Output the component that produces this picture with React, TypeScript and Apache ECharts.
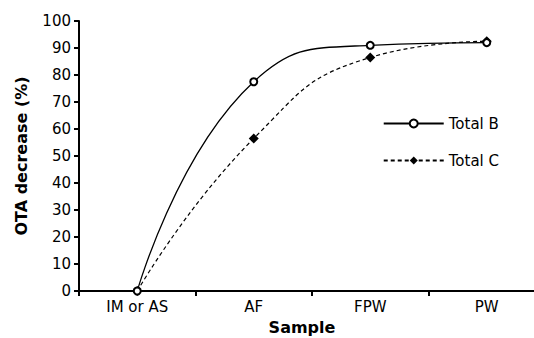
import React, { useEffect, useRef } from "react";
import * as echarts from "echarts";

const categories = ["IM or AS", "AF", "FPW", "PW"];
const totalB = [0, 77.5, 91, 92];
const totalC = [0, 56.5, 86.5, 92.5];
const yTicks = { min: 0, max: 100, interval: 10 };

export default function App() {
  const ref = useRef<HTMLDivElement>(null);
  useEffect(() => {
    const chart = echarts.init(ref.current!, null, { renderer: "svg" });
    const font = "DejaVu Sans";
    chart.setOption({
      animation: false,
      textStyle: { fontFamily: font },
      grid: { left: 79, top: 21, bottom: 47, right: -11, containLabel: false, outerBoundsMode: "none" },
      legend: {
        right: 30,
        top: 111,
        orient: "vertical",
        itemWidth: 60,
        itemHeight: 10,
        itemGap: 22,
        textStyle: { fontFamily: font, fontSize: 15, color: "#000" },
        data: ["Total B", "Total C"],
      },
      xAxis: {
        type: "category",
        data: categories,
        boundaryGap: true,
        name: "Sample",
        nameLocation: "middle",
        nameGap: 28,
        nameTextStyle: { fontFamily: font, fontSize: 16, fontWeight: "bold", color: "#000", padding: [0, 0, 0, -20] },
        axisLine: { lineStyle: { color: "#000", width: 2 } },
        axisTick: { show: true, length: 5, lineStyle: { color: "#000", width: 2 } },
        axisLabel: { color: "#000", fontSize: 15, margin: 8 },
        splitLine: { show: false },
      },
      yAxis: {
        type: "value",
        min: yTicks.min,
        max: yTicks.max,
        interval: yTicks.interval,
        name: "OTA decrease (%)",
        nameLocation: "middle",
        nameGap: 50,
        nameTextStyle: { fontFamily: font, fontSize: 16, fontWeight: "bold", color: "#000" },
        axisLine: { show: true, lineStyle: { color: "#000", width: 2 } },
        axisTick: { show: true, length: 5, lineStyle: { color: "#000", width: 2 } },
        axisLabel: { color: "#000", fontSize: 15, margin: 8 },
        splitLine: { show: false },
      },
      series: [
        {
          name: "Total B",
          type: "line",
          data: totalB,
          smooth: 0.5,
          symbol: "emptyCircle",
          symbolSize: 7,
          lineStyle: { color: "#000", width: 1.3, type: "solid" },
          itemStyle: { color: "#000", borderColor: "#000", borderWidth: 1.3 },
          z: 3,
        },
        {
          name: "Total C",
          type: "line",
          data: totalC,
          smooth: 0.5,
          symbol: "diamond",
          symbolSize: 10,
          lineStyle: { color: "#000", width: 1.2, type: [4, 3] },
          itemStyle: { color: "#000" },
          z: 2,
        },
      ],
    });
    return () => chart.dispose();
  }, []);
  return <div ref={ref} style={{ width: 534, height: 338, position: "absolute", left: 0, top: 0, background: "#fff" }} />;
}
